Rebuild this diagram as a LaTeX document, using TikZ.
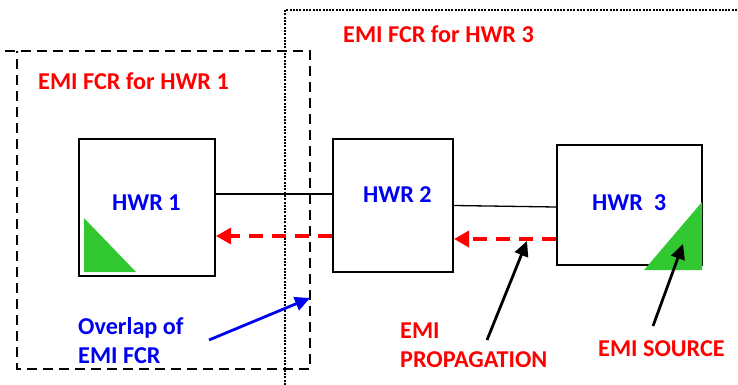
\documentclass[tikz,border=0pt]{standalone}
\usepackage{fontspec}
\setmainfont{Carlito}
\usetikzlibrary{arrows.meta}
\definecolor{emired}{RGB}{255,0,0}
\definecolor{hwblue}{RGB}{0,0,240}
\definecolor{srcgreen}{RGB}{50,200,50}
\begin{document}
\begin{tikzpicture}[x=1pt,y=-1pt,
  lbl/.style={font=\fontsize{24.2}{28.5}\selectfont\bfseries, inner sep=0pt, align=left},
  hwbox/.style={draw, line width=2pt, inner sep=0pt},
  fcrone/.style={line width=2.6pt, dash pattern=on 10pt off 6pt},
  fcrthree/.style={line width=1.3pt, dash pattern=on 2pt off 1.3pt},
  prop/.style={emired, line width=3.5pt, dash pattern=on 14pt off 9pt, -{Triangle[length=15pt,width=16pt]}},
  pointer/.style={line width=2.8pt, -{Triangle[length=15pt,width=14pt]}},
  src/.style={fill=srcgreen, draw=none}]
\useasboundingbox (0,0) rectangle (738,385);
% FCR regions
\draw[fcrthree] (285,385) -- (285,10) -- (738,10);
\draw[fcrone] (5,51) -- (310,51) -- (310,369) -- (17,369) -- (17,51);
% hardware boxes
\node[hwbox, minimum width=136pt, minimum height=137pt] (b1) at (147,207.5) {};
\node[hwbox, minimum width=120pt, minimum height=133pt] (b2) at (393,205.5) {};
\node[hwbox, minimum width=145pt, minimum height=120pt] (b3) at (629.5,205) {};
% green sources
\fill[src] (84,218) -- (84,272) -- (136,272) -- cycle;
\fill[src] (702,202) -- (702,270) -- (644,270) -- cycle;
% labels
\node[lbl, emired, anchor=base west] (l1) at (38,90) {EMI FCR for HWR 1};
\node[lbl, emired, anchor=base west] (l3) at (343,43) {EMI FCR for HWR 3};
\node[lbl, hwblue, anchor=base west] (h1) at (112,210) {HWR 1};
\node[lbl, hwblue, anchor=base west] (h2) at (363,202) {HWR 2};
\node[lbl, hwblue, anchor=base west] (h3) at (592,210) {HWR\ \ 3};
\node[lbl, hwblue, anchor=base west] (ov) at (78,363) {Overlap of\\EMI FCR};
\node[lbl, emired, anchor=base west] (ep) at (400,367) {EMI\\PROPAGATION};
\node[lbl, emired, anchor=base west] (es) at (598,356) {EMI SOURCE};
% connections
\draw[line width=2pt] ([yshift=13.5pt]b1.east) coordinate (c1) -- (c1 -| b2.west);
\draw[line width=1.3pt] (b2.east) -- ([yshift=-2pt]b3.west);
\coordinate (r2) at ([yshift=-30.5pt]b2.west);
\draw[prop] (r2) -- (r2 -| b1.east);
\coordinate (r3) at ([yshift=-34pt]b3.west);
\draw[prop] (r3) -- (r3 -| b2.east);
% pointers
\coordinate (pb) at (209,340);
\coordinate (pbt) at (310,298);
\draw[pointer, hwblue] (pb) -- (pbt);
\coordinate (pp) at (487,340);
\coordinate (ppt) at (527,241);
\draw[pointer] (pp) -- (ppt);
\coordinate (ps) at (653,326);
\coordinate (pst) at (683,244);
\draw[pointer] (ps) -- (pst);
\end{tikzpicture}
\end{document}
